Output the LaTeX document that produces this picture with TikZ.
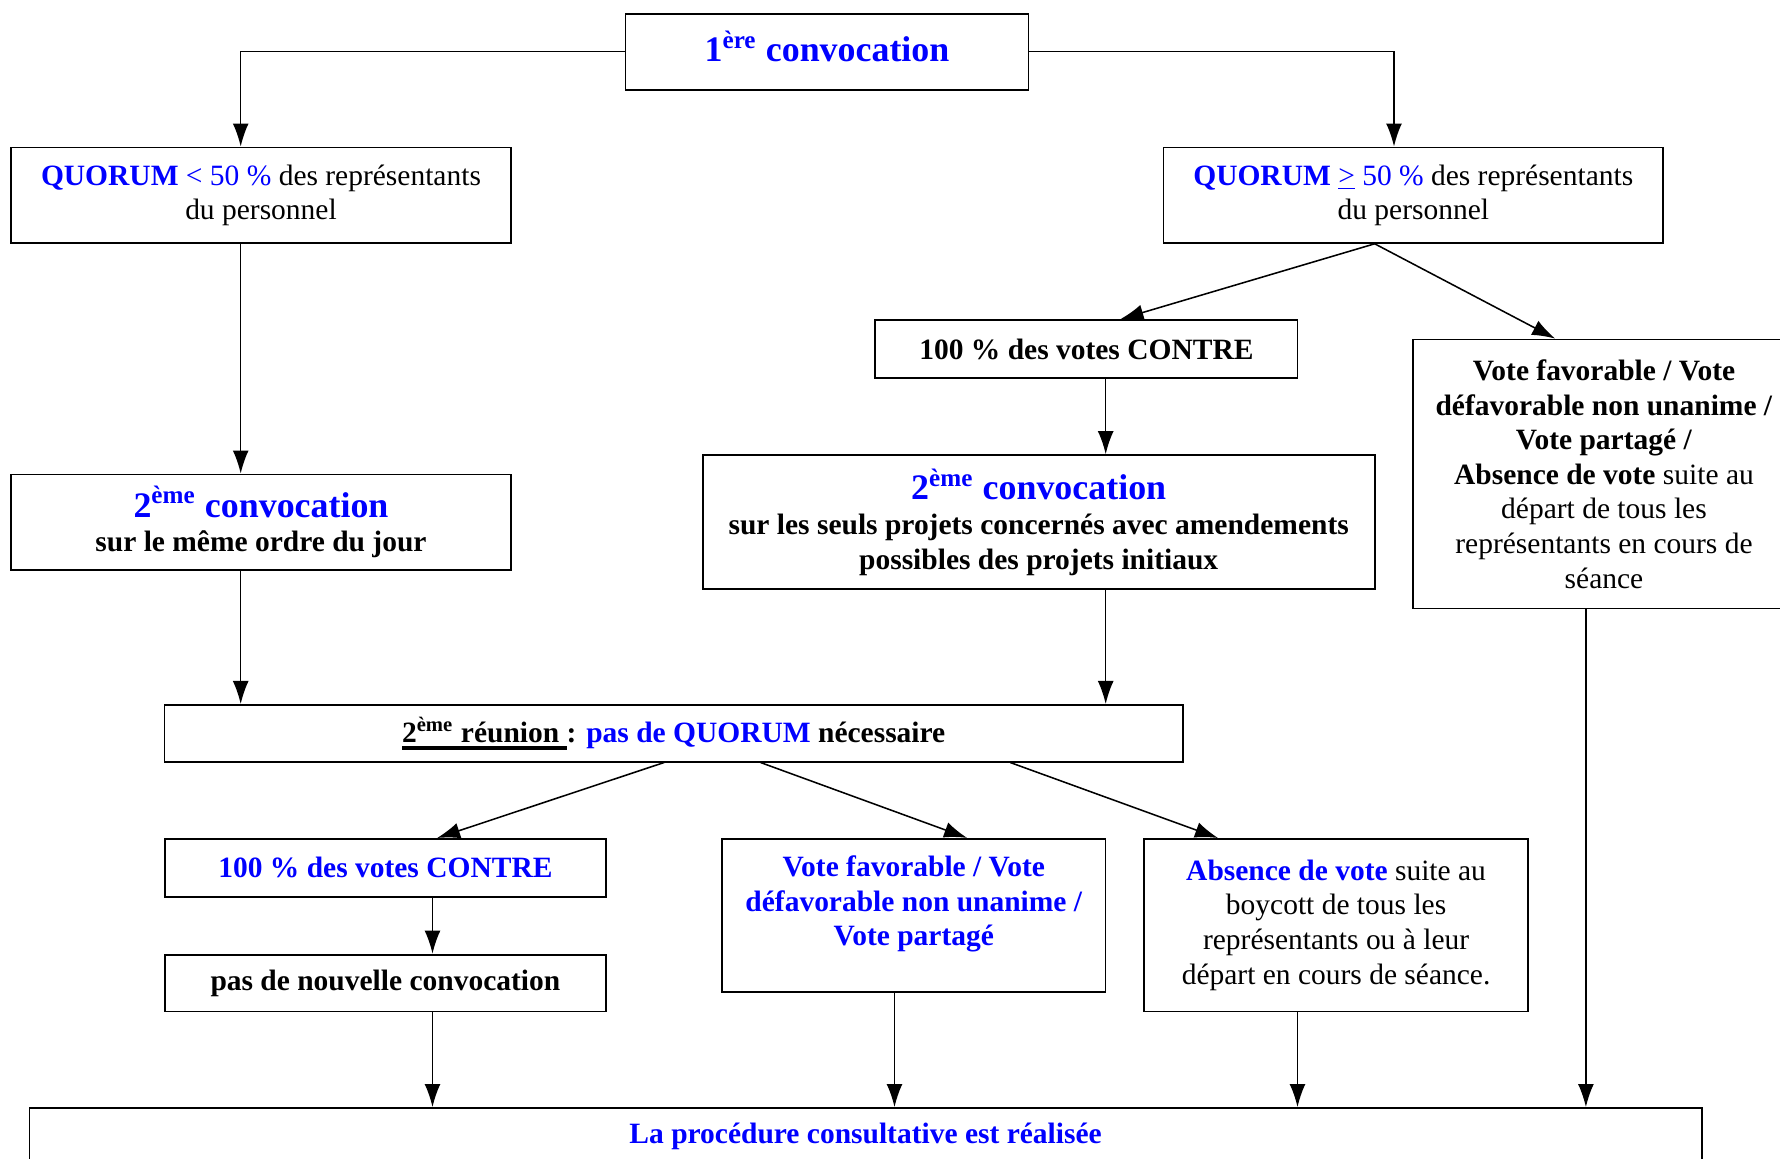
\documentclass[tikz,border=0pt]{standalone}
\usepackage{fontspec}
\setmainfont{Liberation Serif}
\usetikzlibrary{arrows.meta}

\newcommand{\convoc}[2]{{\fontsize{14}{17}\selectfont\bfseries\color{blue}#1\textsuperscript{#2} convocation}}
\newcommand{\souligne}[1]{\setbox0\hbox{#1}\rlap{\rule[-2.8pt]{\wd0}{1.5pt}}\box0}

\begin{document}
\begin{tikzpicture}[x=0.39pt,y=-0.39pt,>={Latex[length=9pt,width=6.2pt]},
                    every node/.style={font=\fontsize{11.5}{13.5}\selectfont},
                    box/.style={draw,rectangle,align=center,line width=0.7pt,inner sep=3pt},
                    gras/.style={font=\fontsize{11.5}{13.5}\selectfont\bfseries},
                    arrow/.style={->,line width=0.6pt}]

  \useasboundingbox (0,0) rectangle (1780,1159);

  % boxes
  \node[box,minimum width=157.2pt,minimum height=29.6pt] (top) at (827,51.7) {\raisebox{4.4pt}{\convoc{1}{ère}}};
  \node[box,minimum width=194.8pt,minimum height=37.2pt] (ql) at (261,195.2)
    {\textcolor{blue}{\textbf{QUORUM} < 50 \%} des représentants\\du personnel};
  \node[box,minimum width=194.8pt,minimum height=37.2pt] (qr) at (1413.3,195.2)
    {\textcolor{blue}{\textbf{QUORUM} \underline{>} 50 \%} des représentants\\du personnel};
  \node[box,gras,minimum width=164.7pt,minimum height=22.6pt] (c1) at (1086.4,349) {100 \% des votes CONTRE};
  \node[box,minimum width=148.8pt,minimum height=104.9pt] (vf) at (1604,474)
    {\textbf{Vote favorable / Vote}\\\textbf{défavorable non unanime /}\\\textbf{Vote partagé /}\\
     \textbf{Absence de vote} suite au\\départ de tous les\\représentants en cours de\\séance};
  \node[box,gras,minimum width=194.8pt,minimum height=37.2pt] (c2l) at (261,522.2)
    {\convoc{2}{ème}\\sur le même ordre du jour};
  \node[box,gras,minimum width=262.1pt,minimum height=52.3pt] (c2m) at (1038.7,522.2)
    {\convoc{2}{ème}\\sur les seuls projets concernés avec amendements\\possibles des projets initiaux};
  \node[box,gras,minimum width=397.1pt,minimum height=22.1pt] (r2) at (673.7,733.3)
    {\souligne{2\textsuperscript{ème} réunion\ }: \textcolor{blue}{pas de QUORUM} nécessaire};
  \node[box,gras,text=blue,minimum width=172.2pt,minimum height=22.6pt] (cb) at (385.4,867.9) {100 \% des votes CONTRE};
  \node[box,gras,minimum width=172.2pt,minimum height=22.2pt] (nc) at (385.4,983.1) {pas de nouvelle convocation};
  \node[box,gras,text=blue,minimum width=149.6pt,minimum height=59.8pt] (vb) at (913.8,915.5)
    {Vote favorable / Vote\\défavorable non unanime /\\Vote partagé\\[-2pt]\mbox{}};
  \node[box,minimum width=149.6pt,minimum height=67.3pt] (ab) at (1336.1,925.2)
    {\textcolor{blue}{\textbf{Absence de vote}} suite au\\boycott de tous les\\représentants ou à leur\\départ en cours de séance.};
  \node[box,gras,text=blue,minimum width=652.2pt,minimum height=22.2pt] (fin) at (865.6,1136.5)
    {La procédure consultative est réalisée};

  % columns of the vertical connectors
  \coordinate (colA) at (240.7,0);
  \coordinate (colB) at (1105.7,0);
  \coordinate (colC) at (1394,0);
  \coordinate (colD) at (432.5,0);
  \coordinate (colE) at (894.5,0);
  \coordinate (colF) at (1297.5,0);
  \coordinate (colG) at (1585.9,0);

  % connectors
  \draw[arrow] (top.west) -| (ql.north -| colA);
  \draw[arrow] (top.east) -| (qr.north -| colC);
  \draw[arrow] (ql.south -| colA) -- (c2l.north -| colA);
  \draw[arrow] (c2l.south -| colA) -- (r2.north -| colA);
  \draw[arrow] ([shift={(-38.6,0)}]qr.south) -- ([shift={(34,0)}]c1.north);
  \draw[arrow] ([shift={(-38.6,0)}]qr.south) -- ([shift={(-48.8,0)}]vf.north);
  \draw[arrow] (c1.south -| colB) -- (c2m.north -| colB);
  \draw[arrow] (c2m.south -| colB) -- (r2.north -| colB);
  \draw[arrow] ([shift={(-9.6,0)}]r2.south) -- ([shift={(51.6,0)}]cb.north);
  \draw[arrow] ([shift={(86.9,0)}]r2.south) -- ([shift={(53.4,0)}]vb.north);
  \draw[arrow] ([shift={(336.6,0)}]r2.south) -- ([shift={(-118,0)}]ab.north);
  \draw[arrow] (cb.south -| colD) -- (nc.north -| colD);
  \draw[arrow] (nc.south -| colD) -- (fin.north -| colD);
  \draw[arrow] (vb.south -| colE) -- (fin.north -| colE);
  \draw[arrow] (ab.south -| colF) -- (fin.north -| colF);
  \draw[arrow] (vf.south -| colG) -- (fin.north -| colG);
\end{tikzpicture}
\end{document}
